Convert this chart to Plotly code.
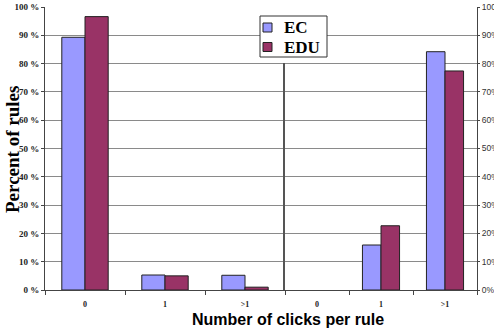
import plotly.graph_objects as go

categories = ["0", "1", ">1"]
ec_left = [89.3, 5.3, 5.2]
edu_left = [96.6, 5.0, 1.0]
ec_right = [0.0, 15.9, 84.2]
edu_right = [0.0, 22.7, 77.4]
y_ticks = [0, 10, 20, 30, 40, 50, 60, 70, 80, 90, 100]
left_tick_text = [f"{v} %" for v in y_ticks]
right_tick_text = [f"{v}%" for v in y_ticks]
series_names = ["EC", "EDU"]

W, H = 494, 329
EC_COLOR = "#9999FF"
EDU_COLOR = "#993366"
SERIF = "Liberation Serif"
SANS = "Liberation Sans"


def px(x):
    return x / W


def py(y):
    return (H - y) / H


def outline(values):
    # no outline on empty bars so nothing is drawn over the axis line
    return dict(color="#222222", width=[0 if v == 0 else 1 for v in values])


fig = go.Figure()
for vals, name, color, xa, ya in [
    (ec_left, series_names[0], EC_COLOR, "x", "y"),
    (edu_left, series_names[1], EDU_COLOR, "x", "y"),
    (ec_right, series_names[0], EC_COLOR, "x2", "y2"),
    (edu_right, series_names[1], EDU_COLOR, "x2", "y2"),
]:
    fig.add_trace(go.Bar(x=categories, y=vals, name=name,
                         marker=dict(color=color, line=outline(vals)),
                         xaxis=xa, yaxis=ya))

y_dom = [py(290), py(7)]
xtick_font = dict(family=SERIF, size=8, color="#222", weight="bold")

common_x = dict(type="category", tickson="boundaries", ticks="outside", ticklen=4,
                tickcolor="#444", showline=True, linecolor="#444", linewidth=1,
                tickfont=xtick_font, ticklabelstandoff=6, automargin=False)
common_y = dict(domain=y_dom, range=[0, 100], tickvals=y_ticks,
                showgrid=True, gridcolor="#8a8a8a", gridwidth=1,
                showline=True, linecolor="#444", linewidth=1,
                ticks="outside", tickcolor="#444",
                zeroline=False, automargin=False)

fig.update_layout(
    width=W, height=H,
    margin=dict(l=0, r=0, t=0, b=0),
    paper_bgcolor="white", plot_bgcolor="white",
    barmode="group", bargap=0.42, bargroupgap=0,
    showlegend=False,
    xaxis=dict(domain=[px(45), px(285)], anchor="y", **common_x),
    xaxis2=dict(domain=[px(285), px(477)], anchor="y2", **common_x),
    yaxis=dict(anchor="x", ticktext=left_tick_text, ticklen=3,
               tickfont=dict(family=SERIF, size=9, color="#222", weight="bold"), **common_y),
    yaxis2=dict(anchor="x2", side="right", ticktext=right_tick_text, ticklen=2,
                tickfont=dict(family=SANS, size=8.5, color="#333"), **common_y),
)

# separator between the two panels
fig.add_shape(type="line", xref="paper", yref="paper",
              x0=px(284), x1=px(284), y0=py(290), y1=py(63),
              line=dict(color="#555555", width=2))

# legend box drawn by hand
fig.add_shape(type="rect", xref="paper", yref="paper",
              x0=px(260), x1=px(327), y0=py(57), y1=py(16),
              line=dict(color="#333", width=1), fillcolor="white")
for (name, color, cy) in [(series_names[0], EC_COLOR, 27.5), (series_names[1], EDU_COLOR, 47)]:
    fig.add_shape(type="rect", xref="paper", yref="paper",
                  x0=px(263), x1=px(272), y0=py(cy + 4.5), y1=py(cy - 4.5),
                  line=dict(color="#222", width=1), fillcolor=color)
    fig.add_annotation(text=name, xref="paper", yref="paper", x=px(282), y=py(cy),
                       xanchor="left", yanchor="middle", showarrow=False,
                       font=dict(family=SERIF, size=17, color="black", weight="bold"))

fig.add_annotation(text="Percent of rules", xref="paper", yref="paper",
                   x=px(12), y=py(150), xanchor="center", yanchor="middle",
                   textangle=-90, showarrow=False,
                   font=dict(family=SERIF, size=19, color="black", weight="bold"))
fig.add_annotation(text="Number of clicks per rule", xref="paper", yref="paper",
                   x=px(288), y=py(319), xanchor="center", yanchor="middle", showarrow=False,
                   font=dict(family=SANS, size=16, color="black", weight="bold"))

fig.write_html("out.html")
